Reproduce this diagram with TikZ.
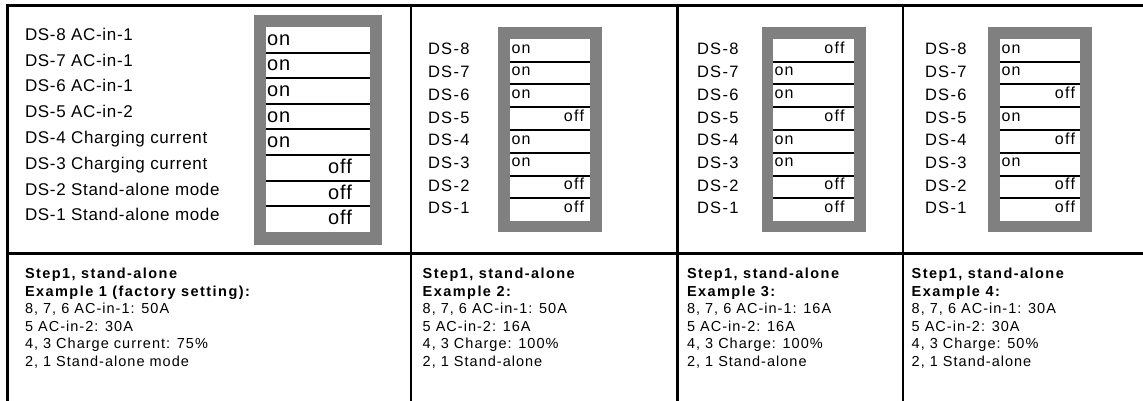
\documentclass[tikz,border=0pt]{standalone}
\usepackage{fontspec}
\setmainfont{Liberation Sans}
\definecolor{swgray}{HTML}{808080}
\tikzset{
  rule/.style={draw=black, line width=2.5pt},
  sep/.style={draw=black, line width=2pt},
  base/.style={inner sep=0pt, outer sep=0pt},
  lblA/.style={base, anchor=base west, font=\fontsize{17}{20}\selectfont\addfontfeature{LetterSpace=4}},
  lblB/.style={base, anchor=base west, font=\fontsize{16.5}{20}\selectfont\addfontfeature{LetterSpace=8}},
  swbig/.style={base, font=\fontsize{20}{22}\selectfont\addfontfeature{LetterSpace=5}},
  swsmall/.style={base, font=\fontsize{16}{18}\selectfont\addfontfeature{LetterSpace=8}},
  swon/.style={anchor=base west},
  swoff/.style={anchor=base east},
  desc/.style={base, anchor=base west, font=\fontsize{14.5}{17}\selectfont\addfontfeature{LetterSpace=7}},
  desch/.style={base, anchor=base west, font=\fontsize{14.5}{17}\selectfont\bfseries\addfontfeature{LetterSpace=10}},
}
\begin{document}
\begin{tikzpicture}[x=1pt,y=-1pt]
\useasboundingbox (0,0) rectangle (1143,401);
% table rules
\draw[rule] (6,5.5) -- (1143,5.5);
\draw[rule] (7.3,4.25) -- (7.3,401);
\draw[rule] (410.8,5.5) -- (410.8,401);
\draw[rule] (677.7,5.5) -- (677.7,401);
\draw[rule] (903,5.5) -- (903,401);
\draw[rule] (7.3,253.3) -- (1143,253.3);

% ---------- panel 1 ----------
\fill[swgray] (254,15) rectangle (382,245);
\fill[white] (266,27) rectangle (370,232);
\foreach \k in {1,...,7} \draw[sep] (266,{27+25.625*\k}) -- (370,{27+25.625*\k});
\foreach \s/\t [count=\k from 0] in {0/on,0/on,0/on,0/on,0/on,1/off,1/off,1/off}
  \node[swbig,sw\t] (pAs\k) at ({267+\s*85},{27+25.625*(\k+1)-7.3}) {\t};
\foreach \t [count=\k from 0] in {DS-8 AC-in-1,DS-7 AC-in-1,DS-6 AC-in-1,DS-5 AC-in-2,DS-4 Charging current,DS-3 Charging current,DS-2 Stand-alone mode,DS-1 Stand-alone mode}
  \node[lblA] (pAl\k) at (25,{40.3+25.8*\k}) {\t};

% ---------- panel 2 ----------
\fill[swgray] (498,27) rectangle (602,232);
\fill[white] (510,39) rectangle (590,221);
\foreach \k in {1,...,7} \draw[sep] (510,{39+22.75*\k}) -- (590,{39+22.75*\k});
\foreach \s/\t [count=\k from 0] in {0/on,0/on,0/on,1/off,0/on,0/on,1/off,1/off}
  \node[swsmall,sw\t] (pBs\k) at ({511.5+\s*72.5},{39+22.75*(\k+1)-8.7}) {\t};
\foreach \t [count=\k from 0] in {DS-8,DS-7,DS-6,DS-5,DS-4,DS-3,DS-2,DS-1}
  \node[lblB] (pBl\k) at (428,{55+22.68*\k}) {\t};

% ---------- panel 3 ----------
\fill[swgray] (762,27) rectangle (866,232);
\fill[white] (773,39) rectangle (854,221);
\foreach \k in {1,...,7} \draw[sep] (773,{39+22.75*\k}) -- (854,{39+22.75*\k});
\foreach \s/\t [count=\k from 0] in {1/off,0/on,0/on,1/off,0/on,0/on,1/off,1/off}
  \node[swsmall,sw\t] (pCs\k) at ({774.5+\s*70},{39+22.75*(\k+1)-8.7}) {\t};
\foreach \t [count=\k from 0] in {DS-8,DS-7,DS-6,DS-5,DS-4,DS-3,DS-2,DS-1}
  \node[lblB] (pCl\k) at (697,{55+22.68*\k}) {\t};

% ---------- panel 4 ----------
\fill[swgray] (988,27) rectangle (1092,232);
\fill[white] (1000,39) rectangle (1080,221);
\foreach \k in {1,...,7} \draw[sep] (1000,{39+22.75*\k}) -- (1080,{39+22.75*\k});
\foreach \s/\t [count=\k from 0] in {0/on,0/on,1/off,0/on,1/off,0/on,1/off,1/off}
  \node[swsmall,sw\t] (pDs\k) at ({1001.5+\s*73.5},{39+22.75*(\k+1)-8.7}) {\t};
\foreach \t [count=\k from 0] in {DS-8,DS-7,DS-6,DS-5,DS-4,DS-3,DS-2,DS-1}
  \node[lblB] (pDl\k) at (925,{55+22.68*\k}) {\t};

% ---------- descriptions ----------
\node[desch] (dA1) at (25,278.3) {Step1, stand-alone};
\node[desch] (dA2) at (25,296) {Example 1 (factory setting):};
\node[desc] (dA3) at (25,313.7) {8, 7, 6 AC-in-1: 50A};
\node[desc] (dA4) at (25,331.3) {5 AC-in-2: 30A};
\node[desc] (dA5) at (25,348.8) {4, 3 Charge current: 75\%};
\node[desc] (dA6) at (25,366.3) {2, 1 Stand-alone mode};

\node[desch] (dB1) at (422.7,278.3) {Step1, stand-alone};
\node[desch] (dB2) at (422.7,296) {Example 2:};
\node[desc] (dB3) at (422.7,313.7) {8, 7, 6 AC-in-1: 50A};
\node[desc] (dB4) at (422.7,331.3) {5 AC-in-2: 16A};
\node[desc] (dB5) at (422.7,348.8) {4, 3 Charge: 100\%};
\node[desc] (dB6) at (422.7,366.3) {2, 1 Stand-alone};

\node[desch] (dC1) at (687,278.3) {Step1, stand-alone};
\node[desch] (dC2) at (687,296) {Example 3:};
\node[desc] (dC3) at (687,313.7) {8, 7, 6 AC-in-1: 16A};
\node[desc] (dC4) at (687,331.3) {5 AC-in-2: 16A};
\node[desc] (dC5) at (687,348.8) {4, 3 Charge: 100\%};
\node[desc] (dC6) at (687,366.3) {2, 1 Stand-alone};

\node[desch] (dD1) at (911.7,278.3) {Step1, stand-alone};
\node[desch] (dD2) at (911.7,296) {Example 4:};
\node[desc] (dD3) at (911.7,313.7) {8, 7, 6 AC-in-1: 30A};
\node[desc] (dD4) at (911.7,331.3) {5 AC-in-2: 30A};
\node[desc] (dD5) at (911.7,348.8) {4, 3 Charge: 50\%};
\node[desc] (dD6) at (911.7,366.3) {2, 1 Stand-alone};
\end{tikzpicture}
\end{document}
